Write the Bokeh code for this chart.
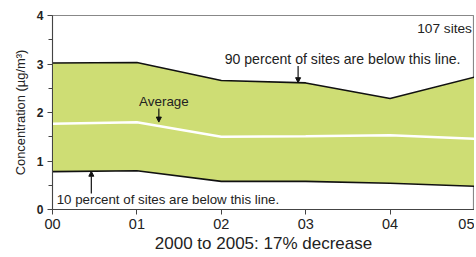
import numpy as np
from bokeh.plotting import figure
from bokeh.models import Range1d, Label, Arrow, NormalHead, FixedTicker
from bokeh.embed import file_html
from bokeh.resources import INLINE

years = [0, 1, 2, 3, 4, 5]
year_labels = ["00", "01", "02", "03", "04", "05"]
p90 = [3.02, 3.03, 2.66, 2.61, 2.29, 2.73]
avg = [1.77, 1.80, 1.50, 1.51, 1.53, 1.46]
p10 = [0.78, 0.80, 0.58, 0.58, 0.54, 0.48]

FONT = "Liberation Sans"
FILL = "#cedd74"

p = figure(frame_width=422, frame_height=194, output_backend="svg",
           toolbar_location=None, x_range=Range1d(0, 5), y_range=Range1d(0, 4),
           min_border_left=52, min_border_right=0, min_border_top=15,
           min_border_bottom=40)
p.grid.visible = False
p.outline_line_color = "#888888"
p.outline_line_width = 1.2
p.background_fill_color = "white"
p.border_fill_color = "white"

p.varea(x=years, y1=p10, y2=p90, fill_color=FILL)
p.line(years, p90, line_color="#111111", line_width=1.6)
p.line(years, p10, line_color="#111111", line_width=1.6)
p.line(years, avg, line_color="white", line_width=2.5)

# axes
p.xaxis.ticker = FixedTicker(ticks=years)
p.xaxis.major_label_overrides = {y: l for y, l in zip(years, year_labels)}
p.xaxis.major_tick_in = 0
p.xaxis.major_tick_out = 5
p.xaxis.minor_tick_out = 0
p.xaxis.major_label_text_font = FONT
p.xaxis.major_label_text_font_size = "14.5px"
p.xaxis.major_label_text_color = "#222222"
p.xaxis.major_label_standoff = 4
p.xaxis.axis_label = "2000 to 2005: 17% decrease"
p.xaxis.axis_label_text_font = FONT
p.xaxis.axis_label_text_font_size = "17px"
p.xaxis.axis_label_text_font_style = "normal"
p.xaxis.axis_label_text_color = "#222222"
p.xaxis.axis_label_standoff = 2
p.xaxis.axis_line_color = "#444444"
p.xaxis.major_tick_line_color = "#444444"

p.yaxis.ticker = FixedTicker(ticks=[0, 1, 2, 3, 4], minor_ticks=[0.5, 1.5, 2.5, 3.5])
p.yaxis.major_tick_in = 0
p.yaxis.major_tick_out = 5
p.yaxis.minor_tick_in = 0
p.yaxis.minor_tick_out = 4
p.yaxis.major_label_text_font = FONT
p.yaxis.major_label_text_font_size = "12px"
p.yaxis.major_label_text_font_style = "bold"
p.yaxis.major_label_text_color = "#222222"
p.yaxis.major_label_standoff = 4
p.yaxis.axis_label = "Concentration (µg/m³)"
p.yaxis.axis_label_text_font = FONT
p.yaxis.axis_label_text_font_size = "12.9px"
p.yaxis.axis_label_text_font_style = "normal"
p.yaxis.axis_label_text_color = "#222222"
p.yaxis.axis_label_standoff = 6
p.yaxis.axis_line_color = "#444444"
p.yaxis.major_tick_line_color = "#444444"
p.yaxis.minor_tick_line_color = "#444444"

def lab(x, y, text, align="left", size="13.5px"):
    p.add_layout(Label(x=x, y=y, text=text, text_font=FONT, text_font_size=size,
                       text_color="#222222", text_align=align, text_baseline="middle"))

lab(4.97, 3.73, "107 sites", "right", "13.7px")
lab(2.04, 3.11, "90 percent of sites are below this line.", "left", "14.1px")
lab(1.32, 2.23, "Average", "center", "13.4px")
lab(0.05, 0.21, "10 percent of sites are below this line.", "left", "13.3px")

def arrow(x, y0, y1):
    p.add_layout(Arrow(end=NormalHead(size=5, fill_color="#111111", line_color="#111111"),
                       x_start=x, y_start=y0, x_end=x, y_end=y1,
                       line_color="#111111", line_width=1.2))

ax = 2.91
arrow(ax, 2.96, float(np.interp(ax, years, p90)))
ax = 1.26
arrow(ax, 2.08, float(np.interp(ax, years, avg)) + 0.08)
ax = 0.46
arrow(ax, 0.33, float(np.interp(ax, years, p10)))

open("out.html", "w").write(file_html(p, INLINE))
